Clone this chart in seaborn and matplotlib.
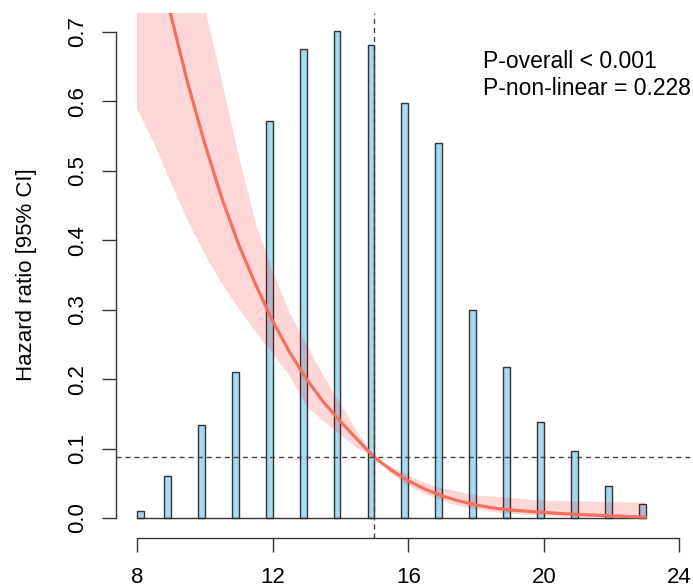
import matplotlib
matplotlib.use('Agg')
import matplotlib.pyplot as plt
import numpy as np
import pandas as pd
import seaborn as sns

# histogram of the exposure (density, bin width 0.2, right-closed bins)
edu_years = [8, 9, 10, 11, 12, 13, 14, 15, 16, 17, 18, 19, 20, 21, 22, 23]
edu_density = [0.010, 0.061, 0.134, 0.211, 0.572, 0.675, 0.701, 0.681,
               0.598, 0.540, 0.299, 0.217, 0.138, 0.097, 0.046, 0.020]
bin_width = 0.2

# restricted cubic spline curve with 95% CI (drawn on the same scale)
rcs_x = [8, 8.5, 9, 9.5, 10, 10.5, 11, 11.5, 12, 12.5, 13, 13.5, 14, 14.5,
         15, 15.5, 16, 16.5, 17, 17.5, 18, 18.5, 19, 20, 21, 22, 23]
rcs_hr = [0.95, 0.833, 0.724, 0.626, 0.539, 0.461, 0.394, 0.336, 0.284, 0.239,
          0.200, 0.167, 0.139, 0.113, 0.0875, 0.069, 0.0536, 0.0414, 0.0318,
          0.0245, 0.0188, 0.0144, 0.0115, 0.0080, 0.0050, 0.0030, 0.0012]
rcs_upper = [1.08, 0.99, 0.91, 0.82, 0.735, 0.630, 0.522, 0.425, 0.356, 0.296,
             0.250, 0.205, 0.164, 0.124, 0.0875, 0.074, 0.0614, 0.0504, 0.0426,
             0.0378, 0.0322, 0.0307, 0.029, 0.025, 0.024, 0.023, 0.022]
rcs_lower = [0.590, 0.540, 0.483, 0.428, 0.380, 0.338, 0.302, 0.268, 0.237, 0.205,
             0.1616, 0.1395, 0.1199, 0.100, 0.0875, 0.064, 0.0464, 0.0343, 0.0246,
             0.0173, 0.012, 0.0085, 0.006, 0.003, 0.0015, 0.0008, 0.0004]

ref_x = 15
ref_y = 0.0875
p_text = ['P-overall < 0.001', 'P-non-linear = 0.228']

sns.set_style('ticks')
plt.rcParams['font.family'] = ['Liberation Sans', 'DejaVu Sans']
plt.rcParams['text.color'] = 'black'
plt.rcParams['axes.labelcolor'] = 'black'

df_rcs = pd.DataFrame({'x': rcs_x, 'hr': rcs_hr, 'lo': rcs_lower, 'hi': rcs_upper})
years = np.array(edu_years, dtype=float)
bar_left = np.where(years == years.min(), years, years - bin_width)

fig = plt.figure(figsize=(6.93, 5.88), dpi=100)
ax = fig.add_axes([116 / 693, 1 - 537.5 / 588, 577 / 693, 525 / 588])

ax.bar(bar_left, edu_density, width=bin_width, align='edge', color='#A6D9F2',
       edgecolor='#333333', linewidth=1.0, zorder=2)
ax.hlines(0, bar_left.min(), years.max(), color='#333333', linewidth=1.0, zorder=2)

ax.fill_between(df_rcs['x'], df_rcs['lo'], df_rcs['hi'], color='#FF0000',
                alpha=0.16, linewidth=0, zorder=3)
sns.lineplot(data=df_rcs, x='x', y='hr', color='#F2705E', linewidth=2.3,
             ax=ax, zorder=4)

ax.axvline(ref_x, color='#444444', linewidth=1.0, dashes=(3.6, 2.9), zorder=5)
ax.axhline(ref_y, color='#444444', linewidth=1.0, dashes=(3.6, 2.9), zorder=5)

ax.set_xlim(7.381, 24.40)
ax.set_ylim(-0.0281, 0.7281)
ax.set_xticks([8, 12, 16, 20, 24])
ax.set_yticks(np.arange(0, 0.71, 0.1))
ax.set_yticklabels([f'{v:.1f}' for v in np.arange(0, 0.71, 0.1)])
sns.despine(ax=ax)
ax.spines['left'].set_bounds(0, 0.7)
ax.spines['bottom'].set_bounds(8, 24)
for s in ['left', 'bottom']:
    ax.spines[s].set_color('#333333')
    ax.spines[s].set_linewidth(1.0)

ax.tick_params(axis='both', length=10, width=1.0, color='#333333',
               labelsize=16, labelcolor='black')
ax.tick_params(axis='y', pad=10, labelrotation=90)
ax.tick_params(axis='x', pad=11.5)
for lbl in ax.get_yticklabels():
    lbl.set_va('center')

ax.set_xlabel('')
ax.set_ylabel('Hazard ratio [95% CI]', fontsize=16, color='black')
ax.yaxis.set_label_coords((37 - 116) / 577, 0.5)

fig.text(483 / 693, 1 - 50 / 588, p_text[0], fontsize=16.5, va='top', ha='left', color='black')
fig.text(483 / 693, 1 - 77 / 588, p_text[1], fontsize=16.5, va='top', ha='left', color='black')

fig.savefig('out.png', dpi=100)
